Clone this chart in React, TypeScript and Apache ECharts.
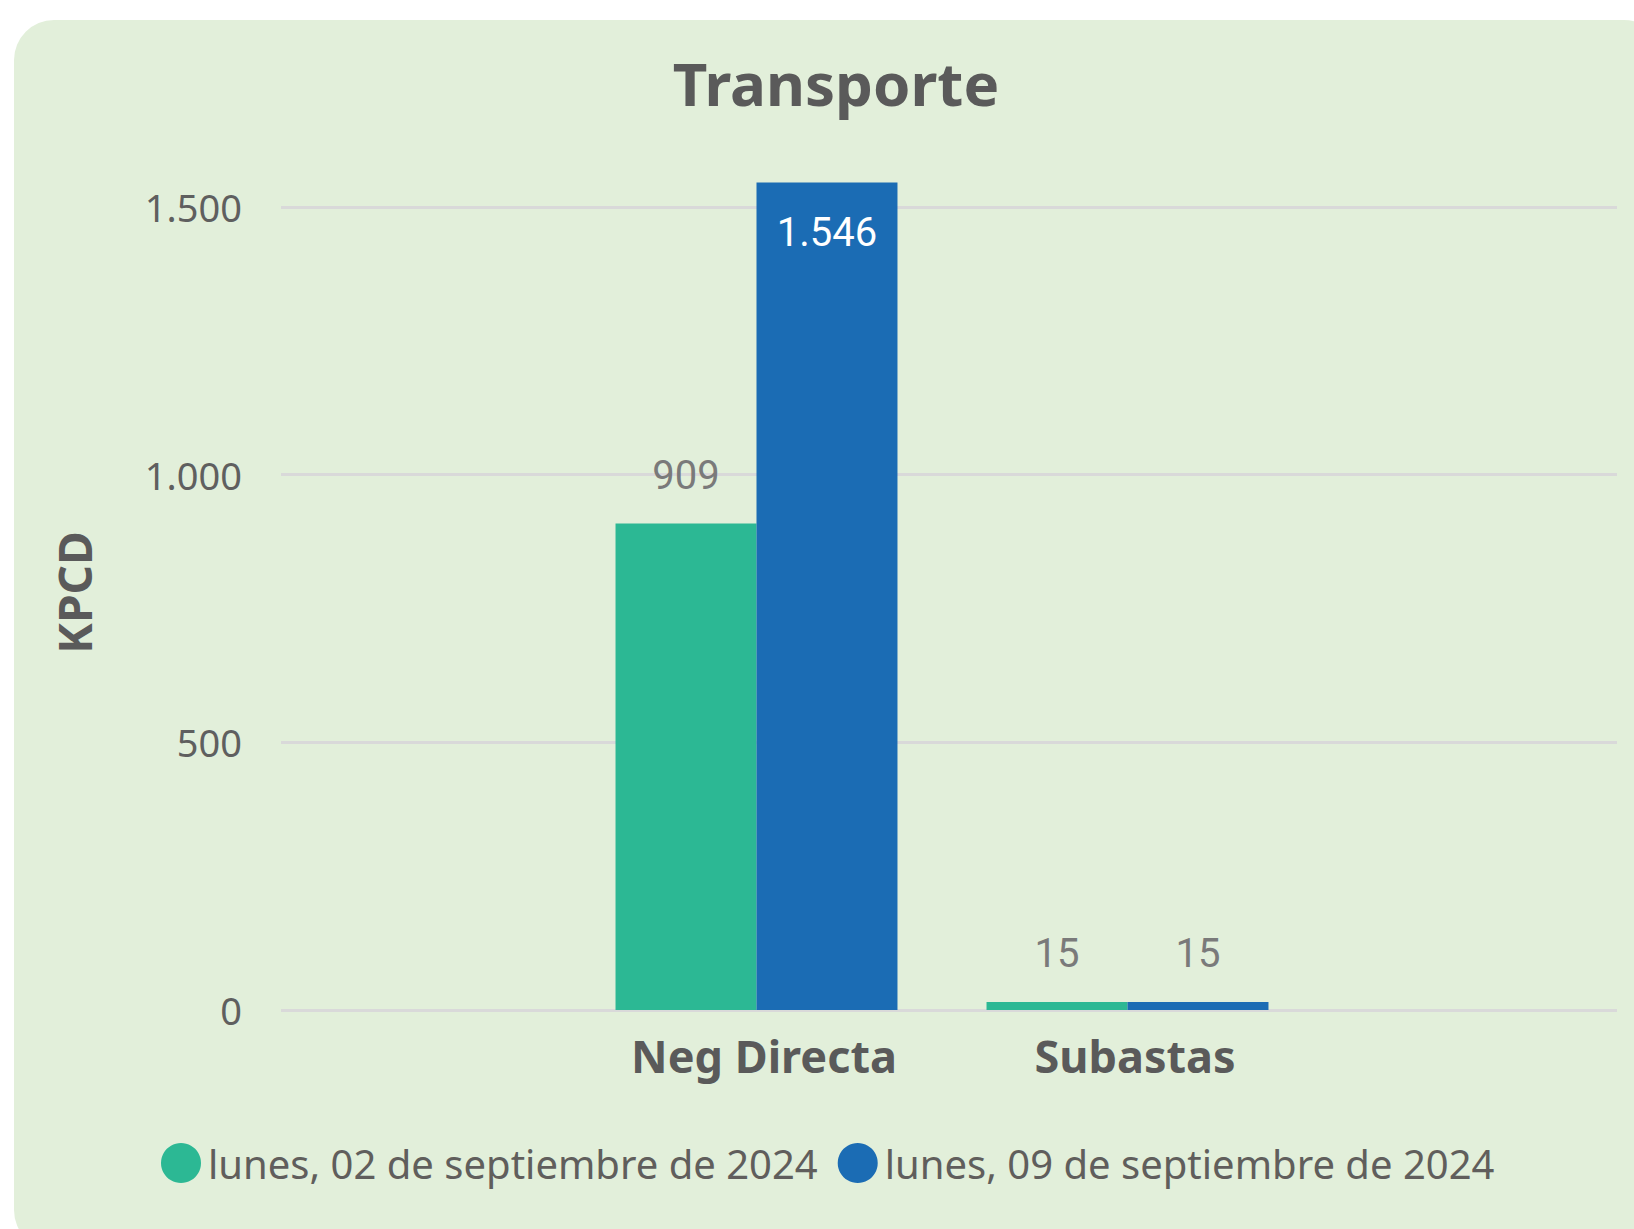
import React, { useEffect, useRef } from "react";
import * as echarts from "echarts";

const categories = ["Neg Directa", "Subastas"];
const seriesNames = ["lunes, 02 de septiembre de 2024", "lunes, 09 de septiembre de 2024"];
const values02 = [909, 15];
const values09 = [1546, 15];
const yTicks = [0, 500, 1000, 1500];
const colors = ["#2CB894", "#1B6CB4"];

const fmt = (v: number) => String(Math.round(v)).replace(/\B(?=(\d{3})+(?!\d))/g, ".");

const GRAY = "#5A5A5A";
const LABEL_GRAY = "#7A7A7A";
const FONT = "'Noto Sans', 'Open Sans', sans-serif";
const NUM_FONT = "Roboto, 'Noto Sans', sans-serif";

export default function App() {
  const ref = useRef<HTMLDivElement>(null);
  useEffect(() => {
    if (!ref.current) return;
    const chart = echarts.init(ref.current, null, { renderer: "svg" });
    const yMax = 1560;
    const topLabel = {
      show: true,
      position: "top",
      distance: 28,
      color: LABEL_GRAY,
      fontFamily: NUM_FONT,
      fontSize: 40,
      formatter: (p: any) => fmt(p.value),
    };
    const insideLabel = {
      show: true,
      position: "insideTop",
      distance: 30,
      color: "#FFFFFF",
      fontFamily: NUM_FONT,
      fontSize: 40,
      formatter: (p: any) => fmt(p.value),
    };
    const makeData = (vals: number[]) =>
      vals.map((v) => ({ value: v, label: v > 1400 ? insideLabel : topLabel }));

    chart.setOption({
      animation: false,
      backgroundColor: "#FFFFFF",
      graphic: [
        {
          type: "rect",
          z: -10,
          silent: true,
          shape: { x: 14, y: 20, width: 1650, height: 1230, r: 40 },
          style: { fill: "#E2EFDA" },
        },
      ],
      title: {
        text: "Transporte",
        left: 831,
        top: 48,
        textAlign: "center",
        textStyle: { fontFamily: FONT, fontSize: 60, fontWeight: "bold", color: GRAY },
      },
      legend: {
        data: seriesNames,
        icon: "circle",
        itemWidth: 40,
        itemHeight: 40,
        itemGap: 20,
        left: 156,
        top: 1138,
        textStyle: { fontFamily: FONT, fontSize: 40, color: "#605E5C", padding: [0, 0, 0, 2] },
      },
      grid: [
        { left: 281, right: 17, top: 175, bottom: 219 },
        { left: 571, right: 321, top: 175, bottom: 219 },
      ],
      xAxis: [
        { type: "category", gridIndex: 0, data: categories, show: false },
        {
          type: "category",
          gridIndex: 1,
          data: categories,
          axisLine: { show: false },
          axisTick: { show: false },
          axisLabel: {
            margin: 23,
            padding: [0, 0, 0, 15],
            fontFamily: FONT,
            fontSize: 45,
            fontWeight: "bold",
            color: GRAY,
          },
        },
      ],
      yAxis: [
        {
          type: "value",
          gridIndex: 0,
          min: yTicks[0],
          max: yMax,
          interval: yTicks[1] - yTicks[0],
          name: "KPCD",
          nameLocation: "middle",
          nameGap: 184,
          nameTextStyle: { fontFamily: FONT, fontSize: 46, fontWeight: "bold", color: GRAY },
          axisLine: { show: false },
          axisTick: { show: false },
          axisLabel: {
            margin: 39,
            fontFamily: FONT,
            fontSize: 38,
            color: "#5F5F5F",
            showMaxLabel: false,
            formatter: (v: number) => (yTicks.includes(v) ? fmt(v) : ""),
          },
          splitLine: { show: true, showMaxLine: false, lineStyle: { color: "#D9D9D9", width: 3 } },
        },
        {
          type: "value",
          gridIndex: 1,
          min: yTicks[0],
          max: yMax,
          interval: yTicks[1] - yTicks[0],
          show: false,
          splitLine: { show: false },
        },
      ],
      series: [
        {
          name: seriesNames[0],
          type: "bar",
          xAxisIndex: 1,
          yAxisIndex: 1,
          data: makeData(values02),
          itemStyle: { color: colors[0] },
          barGap: "0%",
          barCategoryGap: "24%",
        },
        {
          name: seriesNames[1],
          type: "bar",
          xAxisIndex: 1,
          yAxisIndex: 1,
          data: makeData(values09),
          itemStyle: { color: colors[1] },
          barGap: "0%",
          barCategoryGap: "24%",
        },
      ],
    });
    return () => chart.dispose();
  }, []);
  return (
    <div
      ref={ref}
      style={{ position: "fixed", left: 0, top: 0, width: 1634, height: 1229 }}
    />
  );
}
